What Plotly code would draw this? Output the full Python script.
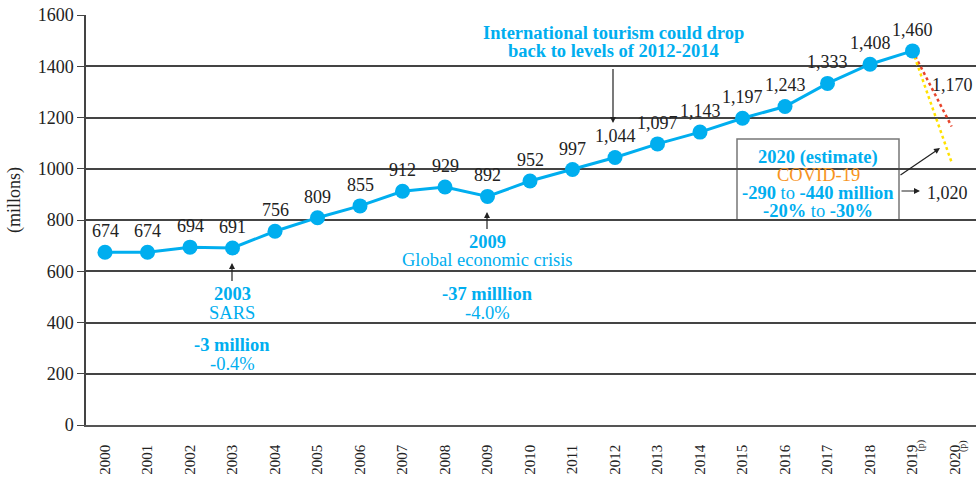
import plotly.graph_objects as go

years = list(range(2000, 2020))
arrivals = [674, 674, 694, 691, 756, 809, 855, 912, 929, 892, 952, 997,
            1044, 1097, 1143, 1197, 1243, 1333, 1408, 1460]
value_labels = ["674", "674", "694", "691", "756", "809", "855", "912", "929", "892",
                "952", "997", "1,044", "1,097", "1,143", "1,197", "1,243", "1,333",
                "1,408", "1,460"]

est_x = [2019, 2019.92]
est_high = [1460, 1165]
est_low = [1460, 1025]

tick_years = list(range(2000, 2021))
tick_text = [str(y) for y in range(2000, 2021)]
note_years = [2019, 2020]
note_text = "(p)"

CYAN = "#00AEEF"
ORANGE = "#F7941D"
FONT = "Liberation Serif"

# axis geometry (pixels) for layout placement of annotations
L, T, W, H = 86, 15, 890, 410
X0 = 2000 - (105 - 86) / 42.5
X1 = X0 + W / 42.5
Y0, Y1 = 0, 1600


def px2x(px):
    return X0 + (px - L) / W * (X1 - X0)


def py2y(py):
    return Y0 + (T + H - py) / H * (Y1 - Y0)


fig = go.Figure()
fig.add_trace(go.Scatter(x=est_x, y=est_high, mode="lines",
                         line=dict(color="#E8452C", width=2.5, dash="dot"),
                         hoverinfo="skip", showlegend=False))
fig.add_trace(go.Scatter(x=est_x, y=est_low, mode="lines",
                         line=dict(color="#FFE100", width=2.5, dash="dot"),
                         hoverinfo="skip", showlegend=False))
fig.add_trace(go.Scatter(x=years, y=arrivals, mode="lines+markers",
                         line=dict(color=CYAN, width=3),
                         marker=dict(color=CYAN, size=15),
                         showlegend=False))

ann = []
for x, y, t in zip(years, arrivals, value_labels):
    ann.append(dict(x=x, y=y, text=t, showarrow=False, yshift=21,
                    font=dict(family=FONT, size=18, color="#222")))

for y in note_years:
    ann.append(dict(x=y, y=0, yref="y", text=note_text, showarrow=False,
                    textangle=-90, xshift=8, yshift=-21,
                    xanchor="center", yanchor="middle",
                    font=dict(family=FONT, size=10, color="#222")))


def txt(px, py, text, color=CYAN, size=18.5):
    ann.append(dict(x=px2x(px), y=py2y(py), text=text, showarrow=False,
                    xanchor="center", yanchor="middle",
                    font=dict(family=FONT, size=size, color=color)))


def arrow(tx, ty, hx, hy):
    ann.append(dict(x=px2x(hx), y=py2y(hy), ax=tx - hx, ay=ty - hy, text=" ",
                    showarrow=True, arrowhead=2, arrowsize=1, arrowwidth=1.2,
                    arrowcolor="#222", standoff=0, startstandoff=0,
                    font=dict(size=1)))


txt(613, 33, "<b>International tourism could drop</b>")
txt(613, 51, "<b>back to levels of 2012-2014</b>")
arrow(613, 67, 613, 123)

txt(487, 242, "<b>2009</b>")
txt(487, 260, "Global economic crisis")
arrow(487, 231, 487, 212)

txt(232, 294, "<b>2003</b>")
txt(232, 313, "SARS")
arrow(232, 283, 232, 263)

txt(487, 294, "<b>-37 milllion</b>")
txt(487, 313, "-4.0%")
txt(232, 345, "<b>-3 million</b>")
txt(232, 364, "-0.4%")

txt(818, 157, "<b>2020 (estimate)</b>")
txt(818, 175, "COVID-19", color=ORANGE)
txt(818, 193, "<b>-290</b> to <b>-440 million</b>")
txt(818, 211, "<b>-20%</b> to <b>-30%</b>")
arrow(899, 176, 940, 148)
arrow(900, 191, 920, 191)
txt(947, 193, "1,020", color="#222", size=18)
txt(952, 85, "1,170", color="#222", size=18)

ann.append(dict(xref="paper", yref="paper", x=(15 - L) / W, y=(T + H - 200) / H,
                text="(millons)", textangle=-90, showarrow=False,
                xanchor="center", yanchor="middle",
                font=dict(family=FONT, size=18, color="#222")))

fig.add_shape(type="rect", x0=px2x(737), x1=px2x(899), y0=py2y(139), y1=py2y(220),
              line=dict(color="#777", width=1.5), fillcolor="white", layer="below")

fig.update_layout(
    width=976, height=480,
    margin=dict(l=L, r=0, t=T, b=480 - T - H, pad=0, autoexpand=False),
    paper_bgcolor="white", plot_bgcolor="white",
    font=dict(family=FONT, color="#222"),
    annotations=ann,
    xaxis=dict(range=[X0, X1], tickvals=tick_years, ticktext=tick_text,
               tickangle=-90, ticks="", showgrid=False, zeroline=False,
               showline=True, linecolor="#555", linewidth=1.5,
               ticklabelstandoff=12, automargin=False,
               tickfont=dict(family=FONT, size=15, color="#222")),
    yaxis=dict(range=[Y0, Y1], tickvals=list(range(0, 1601, 200)),
               ticks="outside", ticklen=7, tickcolor="#444", tickwidth=1.2,
               showgrid=True, gridcolor="#444", gridwidth=1.5, zeroline=False,
               showline=True, linecolor="#444", linewidth=1.5, automargin=False,
               tickfont=dict(family=FONT, size=18, color="#222")),
)

fig.write_html("out.html")
